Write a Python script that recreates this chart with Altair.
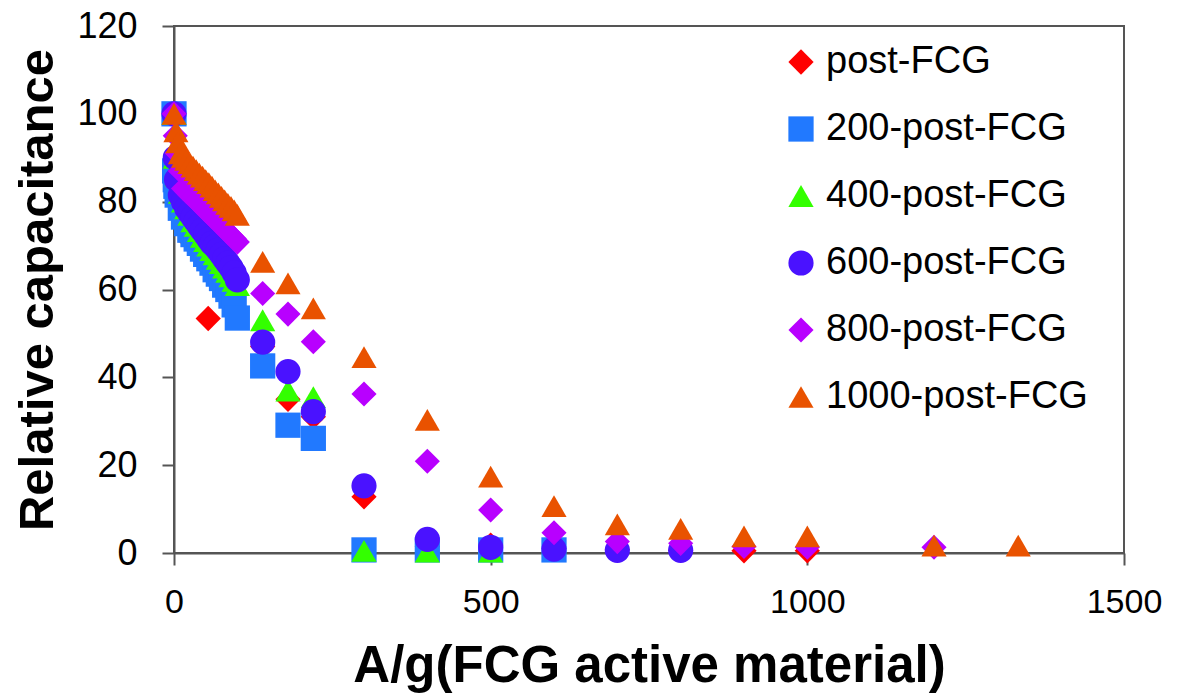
import altair as alt
import pandas as pd

series_names = ["post-FCG", "200-post-FCG", "400-post-FCG", "600-post-FCG", "800-post-FCG", "1000-post-FCG"]
series_colors = ["#FF0000", "#2179FF", "#33FF00", "#4A12FF", "#B800FF", "#E95200"]
series_shapes = ["diamond", "square", "triangle-up", "circle", "diamond", "triangle-up"]
series_sizes = [640, 630, 700, 680, 640, 700]

# post-FCG
x_post = [0, 1, 3, 5, 11, 27, 54, 140, 180, 220, 300, 400, 500, 600, 700, 800, 900, 1000]
y_post = [100, 88, 84, 81, 78, 71, 53.4, 47, 35, 31, 12.8, 1.5, 1.8, 1.0, 0.8, 0.6, 0.5, 0.5]

# 200-post-FCG
x_200 = [0, 1, 2, 3, 5, 10, 15, 20, 25, 30, 35, 40, 45, 50, 55, 60, 65, 70, 75, 80, 85, 90, 95, 100,
         140, 180, 220, 300, 400, 500, 600]
y_200 = [100, 87, 85, 83.5, 81.5, 78.5, 76.5, 75, 73.5, 72.5, 71.5, 70.5, 69.2, 68, 67, 66, 64.5, 63.5, 62.5, 61, 60, 58.5, 56.5, 53.5,
         42.6, 29.1, 26.1, 0.7, 0.7, 0.7, 0.7]

# 400-post-FCG
x_400 = [0, 2, 5, 10, 15, 20, 25, 30, 35, 40, 45, 50, 55, 60, 65, 70, 75, 80, 85, 90, 95, 100,
         140, 180, 220, 300, 400, 500]
y_400 = [100, 90, 86, 82, 80, 78.5, 77, 75.5, 74.5, 73.3, 72, 71, 70, 69, 68, 67, 66, 65, 64, 63, 62, 61,
         53, 37, 35.5, 0.5, 0.3, 0.3]

# 600-post-FCG
x_600 = [0, 2, 4, 10, 15, 20, 25, 30, 35, 40, 45, 50, 55, 60, 65, 70, 75, 80, 85, 90, 95, 100,
         140, 180, 220, 300, 400, 500, 600, 700, 800]
y_600 = [100, 90, 85, 81.5, 80, 78.5, 77.5, 76.5, 75.5, 74.5, 73.5, 72.5, 71.5, 70.5, 69.8, 69, 68, 67, 66, 65, 63.8, 62.2,
         48, 41.3, 32.2, 15.3, 3.1, 1.3, 0.9, 0.6, 0.6]

# 800-post-FCG
x_800 = [0, 2, 5, 10, 15, 20, 25, 30, 35, 40, 45, 50, 55, 60, 65, 70, 75, 80, 85, 90, 95, 100,
         140, 180, 220, 300, 400, 500, 600, 700, 800, 900, 1000, 1200]
y_800 = [100, 95, 91, 87, 83, 82.3, 81.6, 80.9, 80.2, 79.5, 78.8, 78, 77.3, 76.6, 75.9, 75.2, 74.5, 73.8, 73, 72.3, 71.6, 70.8,
         59.1, 54.4, 48.1, 36.2, 20.9, 9.8, 4.6, 2.6, 2.2, 1.5, 1.3, 1.3]

# 1000-post-FCG
x_1000 = [0, 3, 6, 10, 15, 20, 25, 30, 35, 40, 45, 50, 55, 60, 65, 70, 75, 80, 85, 90, 95, 100,
          140, 180, 220, 300, 400, 500, 600, 700, 800, 900, 1000, 1200, 1333]
y_1000 = [100, 96, 93.5, 91, 90.2, 89.5, 88.8, 88, 87.2, 86.4, 85.7, 84.9, 84.2, 83.4, 82.6, 81.9, 81.1, 80.3, 79.5, 78.8, 78, 77,
          66.3, 61.4, 55.7, 44.6, 30.3, 17.4, 10.7, 6.5, 5.5, 3.8, 3.8, 1.7, 1.7]

xs = [x_post, x_200, x_400, x_600, x_800, x_1000]
ys = [y_post, y_200, y_400, y_600, y_800, y_1000]

rows = []
for name, xv, yv in zip(series_names, xs, ys):
    for a, b in zip(xv, yv):
        rows.append({"series": name, "x": a, "y": b})
df = pd.DataFrame(rows)

FONT = "Liberation Sans"

chart = alt.Chart(df).mark_point(filled=True, opacity=1, strokeWidth=0).encode(
    x=alt.X("x:Q", title="A/g(FCG active material)",
            scale=alt.Scale(domain=[0, 1500], nice=False, zero=False),
            axis=alt.Axis(values=[0, 500, 1000, 1500], format="d", tickSize=12, labelPadding=20,
                          labelFlush=False, labelFontSize=34, titleFontSize=51, titlePadding=22,
                          grid=False)),
    y=alt.Y("y:Q", title="Relative capacitance",
            scale=alt.Scale(domain=[0, 120], nice=False, zero=False),
            axis=alt.Axis(values=[0, 20, 40, 60, 80, 100, 120], tickSize=12, labelPadding=25,
                          labelFlush=False, labelFontSize=36, titleFontSize=49, titlePadding=14,
                          grid=False)),
    color=alt.Color("series:N", scale=alt.Scale(domain=series_names, range=series_colors),
                    legend=alt.Legend(orient="none", legendX=608, legendY=17, title=None,
                                      labelFontSize=38, labelFont=FONT, labelColor="black",
                                      labelLimit=600, symbolSize=600, rowPadding=29,
                                      labelOffset=6, padding=0, symbolStrokeWidth=0)),
    shape=alt.Shape("series:N", scale=alt.Scale(domain=series_names, range=series_shapes)),
    size=alt.Size("series:N", scale=alt.Scale(domain=series_names, range=series_sizes), legend=None),
).properties(
    width=950, height=527,
    autosize=alt.AutoSizeParams(type="none"),
    padding={"left": 174, "top": 26, "right": 54, "bottom": 143},
).configure_axis(
    labelFont=FONT, titleFont=FONT, titleFontWeight="bold", labelColor="black", titleColor="black",
    domainColor="#555555", domainWidth=2, tickColor="#555555", tickWidth=2,
).configure_view(stroke="#555555", strokeWidth=2)

chart.save("out.html", embed_options={"renderer": "svg", "actions": False})
